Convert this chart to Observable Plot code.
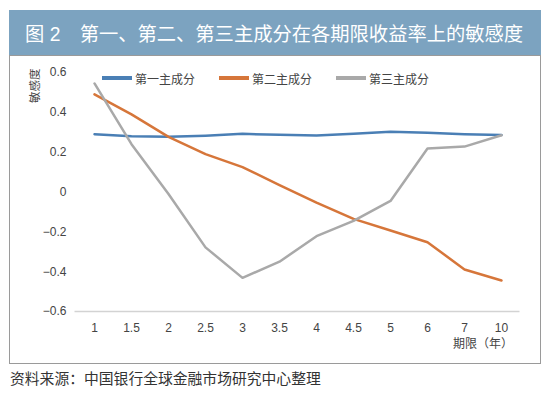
<!DOCTYPE html>
<html><head><meta charset="utf-8">
<script src="https://cdn.jsdelivr.net/npm/d3@7"></script>
<script src="https://cdn.jsdelivr.net/npm/@observablehq/plot@0.6"></script>
<style>
body{margin:0;background:#fff;font-family:"Liberation Sans","Noto Sans CJK SC",sans-serif;}
#band{position:absolute;left:9px;top:10px;height:40px;padding-top:5px;background:#7ca3c0;color:#fff;font-size:19.3px;line-height:40px;padding-left:16px;box-sizing:content-box;width:516px;font-family:"Liberation Sans","Noto Sans CJK SC",sans-serif;white-space:nowrap;}
#frame{position:absolute;left:9px;top:55px;width:532px;height:309px;border:1px solid #9a9a9a;box-sizing:border-box;}
#chart{position:absolute;left:10px;top:56px;}
#legend{position:absolute;left:102px;top:70px;font-size:12px;color:#444;display:flex;align-items:center;height:16px;}
#legend .sw{display:inline-block;width:30px;height:3.5px;margin-right:3px;}
#legend .it{display:flex;align-items:center;margin-right:24px;}
#caption{position:absolute;left:10px;top:367px;font-size:14.8px;color:#333;}
</style></head>
<body>
<div id="band">图 2　第一、第二、第三主成分在各期限收益率上的敏感度</div>
<div id="frame"></div>
<div id="chart"></div>
<div id="legend"></div>
<div id="caption">资料来源：中国银行全球金融市场研究中心整理</div>
<script>
const tenors = ["1","1.5","2","2.5","3","3.5","4","4.5","5","6","7","10"];
const seriesNames = ["第一主成分","第二主成分","第三主成分"];
const pc1 = [0.29, 0.28, 0.277, 0.283, 0.292, 0.287, 0.284, 0.292, 0.302, 0.297, 0.29, 0.286];
const pc2 = [0.49, 0.39, 0.277, 0.19, 0.125, 0.035, -0.053, -0.135, -0.193, -0.252, -0.389, -0.444];
const pc3 = [0.545, 0.24, -0.01, -0.278, -0.431, -0.35, -0.222, -0.145, -0.045, 0.218, 0.228, 0.285];
const yTicks = [0.6, 0.4, 0.2, 0, -0.2, -0.4, -0.6];
const colors = ["#4a7fb5", "#d6763a", "#a9a9a9"];

const data = [];
[pc1, pc2, pc3].forEach((arr, s) => arr.forEach((v, i) => data.push({tenor: tenors[i], value: v, series: seriesNames[s]})));

const font = '"Liberation Sans","Noto Sans CJK SC",sans-serif';
const chart = Plot.plot({
  width: 530, height: 307,
  marginLeft: 64.5, marginRight: 20.5, marginTop: 16, marginBottom: 52,
  style: {fontFamily: font, fontSize: "12px", color: "#444", background: "transparent"},
  x: {type: "point", domain: tenors, padding: 0.5},
  y: {domain: [-0.6, 0.6]},
  color: {domain: seriesNames, range: colors},
  marks: [
    Plot.axisX({tickSize: 0, tickPadding: 12, label: null, fontSize: 12}),
    Plot.axisY({ticks: yTicks, tickSize: 0, tickPadding: 8.5, label: null, fontSize: 12, tickFormat: d => d === 0 ? "0" : d3.format(".1f")(d).replace("-", "\u2212")}),
    Plot.ruleY([-0.6], {stroke: "#d3d3d3", strokeWidth: 1.5}),
    Plot.line(data, {x: "tenor", y: "value", z: "series", stroke: "series", strokeWidth: 2.5, curve: "linear"}),
    Plot.text(["敏感度"], {frameAnchor: "top-left", text: d => d, rotate: -90, textAnchor: "end", lineAnchor: "middle", dx: -39.5, dy: -4, fill: "#444", fontSize: 11.5}),
    Plot.text(["期限（年）"], {frameAnchor: "bottom-right", text: d => d, textAnchor: "end", lineAnchor: "middle", dx: -7, dy: 33, fill: "#444", fontSize: 12})
  ]
});
document.getElementById("chart").appendChild(chart);

const leg = document.getElementById("legend");
seriesNames.forEach((n, i) => {
  const it = document.createElement("div");
  it.className = "it";
  it.innerHTML = `<span class="sw" style="background:${colors[i]}"></span><span>${n}</span>`;
  leg.appendChild(it);
});
</script>
</body></html>
